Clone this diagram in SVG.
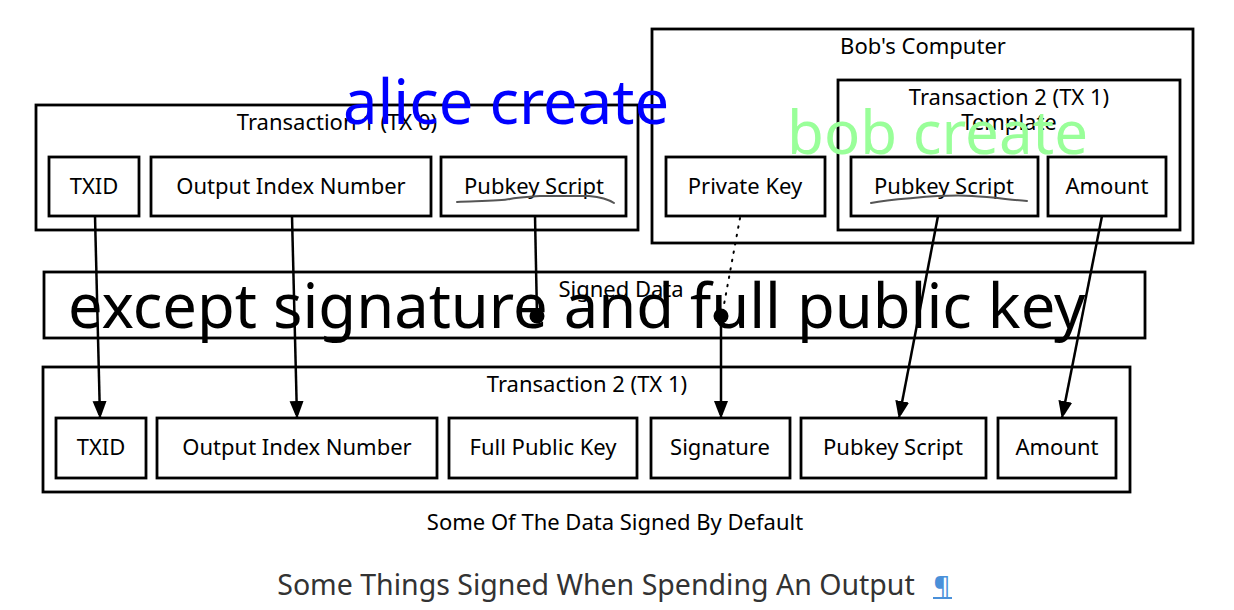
<svg xmlns="http://www.w3.org/2000/svg" width="1234" height="610" viewBox="0 0 1234 610">
<defs>
<marker id="arr" markerWidth="14" markerHeight="18" refX="17" refY="7" orient="auto" markerUnits="userSpaceOnUse">
<path d="M0,0 L18,7 L0,14 Z" fill="#000"/>
</marker>
<style>
.box{fill:#fff;stroke:#000;stroke-width:2.8}
.t{font-family:"Noto Sans","Open Sans",sans-serif;font-size:22px;fill:#000;text-anchor:middle}
.con{fill:none;stroke:#000;stroke-width:2.5}
.scr{fill:none;stroke:#555;stroke-width:2;stroke-linecap:round}
</style>
</defs>
<rect width="1234" height="610" fill="#fff"/>

<g id="tx1">
<rect class="box" x="36" y="105" width="602" height="125"/>
<text class="t" x="337" y="130">Transaction 1 (TX 0)</text>
</g>
<g id="tx1-txid"><rect class="box" x="49" y="157" width="90" height="59"/><text class="t" x="94" y="194">TXID</text></g>
<g id="tx1-oin"><rect class="box" x="151" y="157" width="280" height="59"/><text class="t" x="291" y="194">Output Index Number</text></g>
<g id="tx1-pks"><rect class="box" x="441" y="157" width="185" height="59"/><text class="t" x="534" y="194">Pubkey Script</text>
<path class="scr" d="M457,202 C480,201 500,201 510,199 C520,197 530,197 540,196 L589,196 C600,197 608,199 614,203"/></g>

<g id="bob">
<rect class="box" x="652" y="29" width="541" height="214"/>
<text class="t" x="923" y="54">Bob's Computer</text>
</g>
<g id="bob-pk"><rect class="box" x="666" y="157" width="159" height="59"/><text class="t" x="745" y="194">Private Key</text></g>
<g id="tx2tpl">
<rect class="box" x="838" y="80" width="342" height="150"/>
<text class="t" x="1009" y="105">Transaction 2 (TX 1)</text>
<text class="t" x="1009" y="130">Template</text>
</g>
<g id="tpl-pks"><rect class="box" x="851" y="157" width="187" height="59"/><text class="t" x="944" y="194">Pubkey Script</text>
<path class="scr" d="M871,203 C885,200 900,199 913,198 C935,196 955,195 972,196 C995,197 1010,200 1027,201"/></g>
<g id="tpl-amt"><rect class="box" x="1048" y="157" width="118" height="59"/><text class="t" x="1107" y="194">Amount</text></g>

<g id="signed">
<rect class="box" x="44" y="272" width="1101" height="66"/>
<text class="t" x="621" y="297">Signed Data</text>
</g>

<g id="tx2">
<rect class="box" x="43" y="367" width="1087" height="125"/>
<text class="t" x="587" y="392">Transaction 2 (TX 1)</text>
</g>
<g id="tx2-txid"><rect class="box" x="56" y="418" width="90" height="60"/><text class="t" x="101" y="455">TXID</text></g>
<g id="tx2-oin"><rect class="box" x="157" y="418" width="280" height="60"/><text class="t" x="297" y="455">Output Index Number</text></g>
<g id="tx2-fpk"><rect class="box" x="449" y="418" width="188" height="60"/><text class="t" x="543" y="455">Full Public Key</text></g>
<g id="tx2-sig"><rect class="box" x="651" y="418" width="139" height="60"/><text class="t" x="720" y="455">Signature</text></g>
<g id="tx2-pks"><rect class="box" x="801" y="418" width="185" height="60"/><text class="t" x="893" y="455">Pubkey Script</text></g>
<g id="tx2-amt"><rect class="box" x="998" y="418" width="118" height="60"/><text class="t" x="1057" y="455">Amount</text></g>

<g id="connectors">
<line class="con" x1="95" y1="216" x2="100" y2="418" marker-end="url(#arr)"/>
<line class="con" x1="292" y1="216" x2="297" y2="418" marker-end="url(#arr)"/>
<line class="con" x1="535" y1="216" x2="537" y2="316"/>
<circle cx="537" cy="316" r="7.5" fill="#000"/>
<line x1="740" y1="218" x2="723" y2="310" stroke="#000" stroke-width="2" stroke-dasharray="1.5,7" stroke-linecap="round"/>
<circle cx="721" cy="316" r="7.5" fill="#000"/>
<line class="con" x1="721" y1="316" x2="721" y2="418" marker-end="url(#arr)"/>
<line class="con" x1="938" y1="216" x2="899" y2="418" marker-end="url(#arr)"/>
<line class="con" x1="1102" y1="216" x2="1062" y2="418" marker-end="url(#arr)"/>
</g>

<text x="343" y="124" font-family="Noto Sans, Open Sans, sans-serif" font-size="61.5" fill="#0000ff">alice create</text>
<text x="787" y="154" font-family="Noto Sans, Open Sans, sans-serif" font-size="60" fill="#99ff99">bob create</text>
<text x="68" y="328" font-family="Noto Sans, Open Sans, sans-serif" font-size="61.5" fill="#000">except signature and full public key</text>

<text class="t" x="615" y="530">Some Of The Data Signed By Default</text>
<text x="596" y="595" font-family="Noto Sans, Open Sans, sans-serif" font-size="28.5" fill="#333" text-anchor="middle">Some Things Signed When Spending An Output</text>
<text x="942" y="595" font-family="Noto Sans, Open Sans, sans-serif" font-size="26" fill="#4a90d9" text-anchor="middle">¶</text>
<line x1="933" y1="598" x2="952" y2="598" stroke="#4a90d9" stroke-width="2"/>
</svg>
